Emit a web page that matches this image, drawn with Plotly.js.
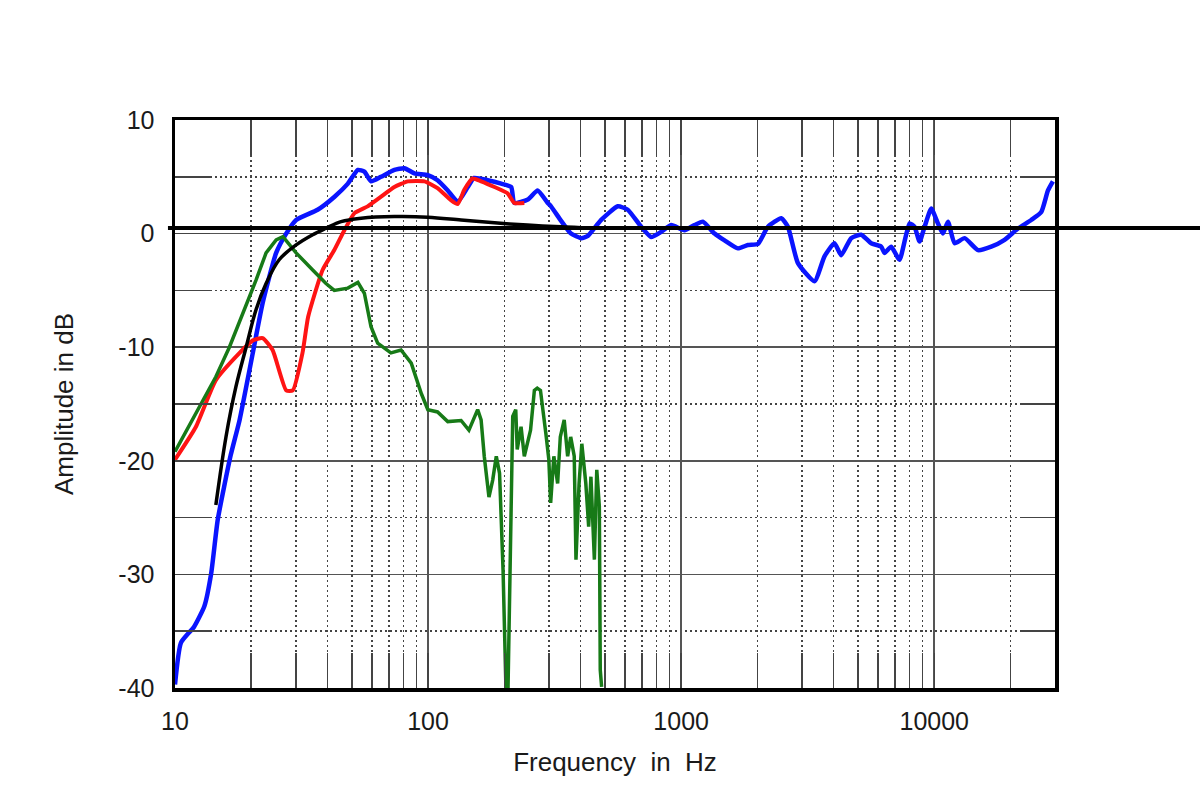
<!DOCTYPE html>
<html>
<head>
<meta charset="utf-8">
<script src="https://cdn.plot.ly/plotly-3.0.1.min.js"></script>
<style>
  html, body { margin: 0; padding: 0; background: #fff; }
  #chart { width: 1200px; height: 812px; }
</style>
</head>
<body>
<div id="chart"></div>
<script>
// blue trace
const blueF = [10, 10.56, 11.9, 13.06, 13.9, 14.75, 16.6, 18.0, 20.3, 22.2, 25.1, 27.5, 30.1, 36.6, 42.7, 48.2, 52.8, 56.0, 59.5, 65.2, 73.6, 80.6, 88.3, 99.8, 109, 119.6, 131, 143.5, 152, 172, 194.5, 213, 219, 248, 271, 297, 306, 336, 367, 403, 428, 483, 562, 615, 695, 761, 833, 913, 1030, 1129, 1218, 1355, 1484, 1675, 1836, 2011, 2202, 2486, 2641, 2893, 3365, 3684, 4035, 4287, 4695, 5144, 5633, 6170, 6365, 6760, 7290, 7985, 8360, 8750, 9160, 9730, 10340, 10820, 11330, 12030, 13180, 14890, 16800, 18960, 21420, 24170, 26480, 28140, 29440];
const blueDb = [-39.7, -36.0, -34.6, -32.8, -29.9, -25.2, -19.5, -16.4, -10.5, -6.1, -1.7, 0.0, 1.2, 2.1, 3.25, 4.4, 5.6, 5.45, 4.6, 5.0, 5.6, 5.75, 5.3, 5.15, 4.7, 3.8, 2.8, 4.1, 4.9, 4.7, 4.4, 4.1, 2.7, 3.0, 3.8, 2.7, 2.4, 1.1, 0.0, -0.4, -0.2, 1.2, 2.4, 2.1, 0.6, -0.3, 0.15, 0.75, 0.3, 0.75, 1.05, 0.0, -0.6, -1.3, -1.0, -0.9, 0.6, 1.35, 0.6, -2.6, -4.2, -2.0, -0.85, -1.9, -0.4, -0.1, -0.85, -1.15, -1.7, -1.15, -2.3, 0.9, 0.6, -0.7, 0.6, 2.2, 0.9, 0.0, 1.05, -0.85, -0.4, -1.45, -1.15, -0.55, 0.45, 1.2, 1.9, 3.8, 4.6];

// red trace
const redF = [10, 12.1, 14.5, 18.0, 20.3, 22.2, 24.3, 27.5, 29.2, 31.9, 33.6, 38.3, 42.6, 46.7, 51.2, 57.7, 65.2, 73.6, 83.2, 96.8, 109, 123, 131, 139, 150, 162, 183, 206, 219, 240];
const redDb = [-19.9, -17.0, -12.9, -10.5, -9.4, -9.2, -10.25, -13.8, -13.8, -10.5, -7.3, -3.2, -1.45, 0.3, 1.8, 2.4, 3.25, 4.1, 4.6, 4.6, 4.0, 2.95, 2.6, 3.85, 4.85, 4.6, 4.1, 3.55, 2.7, 2.7];

// green trace
const greenF = [10, 12.1, 14.5, 16.4, 19.1, 20.9, 22.9, 25.1, 26.7, 30.1, 35, 39.5, 42.6, 48.2, 52.8, 56.0, 59.5, 63.2, 71.3, 78.2, 85.8, 94.1, 99.8, 109, 119.6, 135, 145, 157, 162, 166.7, 174, 180, 186, 191.6, 197.8, 203, 207, 211, 216, 222, 225, 233, 240, 254, 263, 270, 278, 292, 300, 305, 314, 325, 333, 345, 356, 366, 378, 384, 395, 405, 420, 431, 440, 454, 464, 475, 479, 485];
const greenDb = [-19.2, -15.8, -12.6, -10.0, -6.4, -4.1, -1.7, -0.55, -0.27, -1.7, -3.2, -4.4, -5.0, -4.8, -4.3, -5.25, -8.2, -9.65, -10.5, -10.25, -11.4, -14.1, -15.5, -15.7, -16.55, -16.45, -17.3, -15.5, -16.4, -19.6, -23.2, -21.7, -19.6, -21.1, -29.6, -39.9, -39.9, -27.9, -16.1, -15.5, -19.0, -17.0, -19.6, -17.3, -13.8, -13.6, -13.8, -17.6, -19.9, -23.7, -19.6, -22.0, -17.9, -16.4, -19.6, -17.9, -19.6, -28.7, -22.0, -18.5, -22.0, -25.8, -21.4, -28.7, -20.8, -24.0, -38.4, -39.9];

// black target curve
const blackF = [14.5, 15.9, 17.4, 19.1, 20.9, 22.9, 25.8, 30.1, 35.0, 39.5, 45.3, 54.4, 73.6, 99.8, 135, 183, 247, 336, 450, 600];
const blackDb = [-23.9, -17.9, -13.5, -10.0, -6.7, -4.4, -2.3, -1.0, -0.1, 0.47, 1.05, 1.35, 1.5, 1.45, 1.2, 0.95, 0.75, 0.6, 0.5, 0.5];

const refLevel = 0.5;

const xTickVals = [10, 100, 1000, 10000];
const xTickText = ['10', '100', '1000', '10000'];
const yTickVals = [10, 0, -10, -20, -30, -40];
const yTickText = ['10', '0', '-10', '-20', '-30', '-40'];

const font = 'Liberation Sans, Arial, Helvetica, sans-serif';

const traces = [
  { x: blueF, y: blueDb, mode: 'lines', line: { color: '#0a14ff', width: 4.5, shape: 'spline', smoothing: 0.5 } },
  { x: redF, y: redDb, mode: 'lines', line: { color: '#ff1414', width: 4, shape: 'spline', smoothing: 0.5 } },
  { x: greenF, y: greenDb, mode: 'lines', line: { color: '#177a17', width: 3.5 } },
  { x: blackF, y: blackDb, mode: 'lines', line: { color: '#000', width: 3.5, shape: 'spline' } }
];

const minorStyle = {
  ticks: 'inside', ticklen: 35, tickwidth: 1.5, tickcolor: '#444',
  showgrid: true, griddash: '2px,3px', gridcolor: '#444', gridwidth: 1.5
};

const layout = {
  width: 1200, height: 812,
  margin: { l: 175, r: 145, t: 120, b: 124 },
  paper_bgcolor: '#fff', plot_bgcolor: '#fff',
  showlegend: false,
  font: { family: font, color: '#1a1a1a' },
  xaxis: {
    type: 'log',
    range: [1, Math.log10(30000)],
    tickmode: 'array', tickvals: xTickVals, ticktext: xTickText,
    tickfont: { size: 25 },
    ticks: 'inside', ticklen: 0,
    ticklabelstandoff: 8,
    showgrid: true, gridcolor: '#555', gridwidth: 2,
    minor: Object.assign({ dtick: 'D1' }, minorStyle),
    showline: true, linecolor: '#000', linewidth: 3.5, mirror: 'ticks',
    zeroline: false,
    title: { text: 'Frequency\u00a0\u00a0in\u00a0\u00a0Hz', font: { size: 26 }, standoff: 20 }
  },
  yaxis: {
    range: [-40, 10],
    tickmode: 'array', tickvals: yTickVals, ticktext: yTickText,
    tickfont: { size: 25 },
    ticks: 'inside', ticklen: 0,
    ticklabelstandoff: 12,
    showgrid: true, gridcolor: '#555', gridwidth: 1.5,
    minor: Object.assign({ dtick: 5 }, minorStyle),
    showline: true, linecolor: '#000', linewidth: 3.5, mirror: 'ticks',
    zeroline: false,
    title: { text: 'Amplitude in dB', font: { size: 26 }, standoff: 38 }
  },
  shapes: [{
    type: 'line', xref: 'paper', yref: 'y',
    x0: -0.008, x1: 1.17, y0: refLevel, y1: refLevel,
    line: { color: '#000', width: 4 }, layer: 'above'
  }]
};

Plotly.newPlot('chart', traces, layout, { staticPlot: true });
</script>
</body>
</html>
